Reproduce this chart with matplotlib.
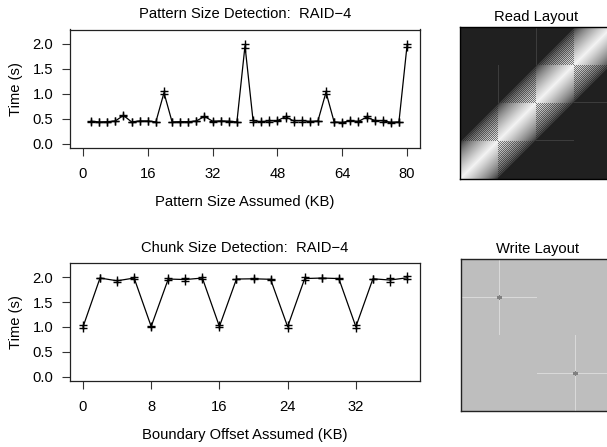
import numpy as np
import matplotlib
matplotlib.use("Agg")
import matplotlib.pyplot as plt

plt.rcParams['font.family'] = ['Liberation Sans', 'DejaVu Sans']

# ---------------- data ----------------
pattern_x = list(range(2, 81, 2))
pattern_run1 = [0.46, 0.44, 0.44, 0.46, 0.58, 0.44, 0.46, 0.46, 0.44, 1.05,
                0.44, 0.44, 0.44, 0.46, 0.56, 0.46, 0.46, 0.46, 0.44, 2.00,
                0.47, 0.45, 0.47, 0.47, 0.56, 0.47, 0.48, 0.45, 0.46, 1.06,
                0.44, 0.43, 0.47, 0.45, 0.55, 0.48, 0.47, 0.44, 0.44, 2.00]
pattern_run2 = [0.44, 0.43, 0.44, 0.45, 0.55, 0.43, 0.45, 0.45, 0.43, 0.99,
                0.43, 0.44, 0.44, 0.45, 0.53, 0.44, 0.45, 0.44, 0.43, 1.92,
                0.44, 0.43, 0.44, 0.45, 0.52, 0.44, 0.44, 0.44, 0.45, 1.00,
                0.43, 0.42, 0.45, 0.44, 0.51, 0.45, 0.44, 0.42, 0.43, 1.93]

chunk_x = list(range(0, 39, 2))
chunk_run1 = [1.03, 1.99, 1.95, 2.00, 1.02, 1.98, 1.98, 2.00, 1.03, 1.97,
              1.98, 1.97, 1.03, 2.00, 1.99, 1.99, 1.03, 1.97, 1.98, 2.02]
chunk_run2 = [0.97, 1.98, 1.91, 1.97, 1.00, 1.95, 1.93, 1.97, 0.99, 1.96,
              1.96, 1.95, 0.98, 1.95, 1.98, 1.96, 0.98, 1.97, 1.91, 1.96]

y_ticks = [0.0, 0.5, 1.0, 1.5, 2.0]
pattern_xticks = [0, 16, 32, 48, 64, 80]
chunk_xticks = [0, 8, 16, 24, 32]

n_blocks = 4          # disks in layout
block_px = 38         # cells per block
write_dot_cols = [1, 3]   # block coordinates (from left)
write_dot_rows = [1, 3]   # block coordinates (from top)

# ---------------- figure ----------------
W, H = 607, 447
fig = plt.figure(figsize=(W / 100, H / 100), dpi=100)
FS = 10.6


def px_axes(left, top, right, bottom):
    return fig.add_axes([left / W, 1 - bottom / H, (right - left) / W, (bottom - top) / H])


def line_panel(ax, x, r1, r2, xticks, xlim, title, xlabel):
    mean = [(a + b) / 2 for a, b in zip(r1, r2)]
    ax.plot(x, mean, color='black', lw=0.9)
    ax.plot(x, r1, '+', color='black', ms=5.8, mew=1.0)
    ax.plot(x, r2, '+', color='black', ms=5.8, mew=1.0)
    ax.set_xlim(*xlim)
    ax.set_ylim(-0.088, 2.288)
    ax.set_yticks(y_ticks)
    ax.set_yticklabels([f"{v:.1f}" for v in y_ticks])
    ax.set_xticks(xticks)
    ax.tick_params(direction='out', length=6, width=0.8, labelsize=FS, pad=6, color='#333333')
    ax.tick_params(axis='x', pad=8)
    for s in ax.spines.values():
        s.set_linewidth(0.9)
        s.set_color('#222222')
    ax.set_title(title, fontsize=FS, pad=8)
    ax.set_xlabel(xlabel, fontsize=FS, labelpad=10)
    ax.set_ylabel("Time (s)", fontsize=FS, labelpad=7)


ax1 = px_axes(70, 29.5, 420, 148)
line_panel(ax1, pattern_x, pattern_run1, pattern_run2, pattern_xticks, (-3.2, 83.2),
           "Pattern Size Detection:  RAID\u22124", "Pattern Size Assumed (KB)")

ax2 = px_axes(70, 263, 420, 381)
line_panel(ax2, chunk_x, chunk_run1, chunk_run2, chunk_xticks, (-1.52, 39.52),
           "Chunk Size Detection:  RAID\u22124", "Boundary Offset Assumed (KB)")

# ---------------- read layout image ----------------
M = n_blocks * block_px
ii, jj = np.mgrid[0:M, 0:M]
d = np.abs(ii - jj) / block_px
base = np.clip(1 - d, 0, 1) ** 0.65
same_block = (ii // block_px) == (jj // block_px)
checker = ((ii + jj) % 2) == 0
val = np.where(same_block | checker, base, 0.45 * base)
bg, hi = 0.125, 0.95
read_img = bg + val * (hi - bg)
# faint block boundaries near the diagonal
bi, bj = ii // block_px, jj // block_px
near = np.abs(bi - bj) <= 1
edge = ((ii % block_px) == 0) | ((jj % block_px) == 0)
edge &= (ii > 0) & (jj > 0)
read_img = np.where(near & edge & (base < 0.05), 0.24, read_img)

ax3 = px_axes(460, 27, 460 + M, 27 + M)
ax3.imshow(read_img, cmap='gray', vmin=0, vmax=1, origin='lower',
           interpolation='nearest', aspect='auto')
ax3.set_xticks([]); ax3.set_yticks([])
for s in ax3.spines.values():
    s.set_linewidth(1.0); s.set_color('black')
ax3.set_title("Read Layout", fontsize=FS, pad=4)

# ---------------- write layout image ----------------
write_img = np.full((M, M), 0.745)
for c, r in zip(write_dot_cols, write_dot_rows):
    cc, rr = c * block_px, r * block_px
    lo_r, hi_r = max(rr - block_px, 0), min(rr + block_px, M)
    lo_c, hi_c = max(cc - block_px, 0), min(cc + block_px, M)
    write_img[lo_r:hi_r, cc] = 0.85
    write_img[rr, lo_c:hi_c] = 0.85
    dot = ((ii - rr) / 2.0) ** 2 + ((jj - cc) / 2.6) ** 2 <= 1.0
    write_img[dot] = 0.5

ax4 = px_axes(461, 259, 461 + M, 259 + M)
ax4.imshow(write_img, cmap='gray', vmin=0, vmax=1, origin='upper',
           interpolation='nearest', aspect='auto')
ax4.set_xticks([]); ax4.set_yticks([])
for s in ax4.spines.values():
    s.set_linewidth(1.0); s.set_color('#222222')
ax4.set_title("Write Layout", fontsize=FS, pad=4)

fig.savefig("out.png", dpi=100)
